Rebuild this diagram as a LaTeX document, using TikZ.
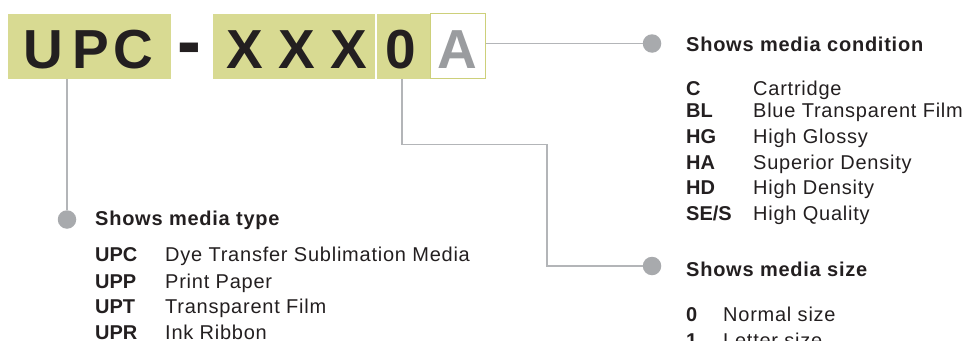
\documentclass[tikz,border=0pt]{standalone}
\usepackage{fontspec}
\setmainfont{Liberation Sans}
\newfontfamily\spacedfont[LetterSpace=3.8]{Liberation Sans}
\definecolor{boxgreen}{HTML}{D8DA92}
\definecolor{boxedge}{HTML}{CDD07A}
\definecolor{linegray}{HTML}{B3B5B8}
\definecolor{dotgray}{HTML}{A8AAAD}
\definecolor{ink}{HTML}{231F20}
\definecolor{agray}{HTML}{9A9C9F}
\tikzset{
  codebox/.style={fill=boxgreen, draw=none, inner sep=0pt, minimum height=65pt},
  abox/.style={fill=white, draw=boxedge, line width=1pt, inner sep=0pt, minimum height=64.5pt, minimum width=55pt},
  bigletter/.style={inner sep=0pt, anchor=base, text=ink, font=\fontsize{55}{60}\selectfont\bfseries},
  bigA/.style={bigletter, text=agray},
  conn/.style={draw=linegray, line width=1.3pt},
  bullet/.style={circle, fill=dotgray, inner sep=0pt, minimum size=18.5pt},
  title/.style={inner sep=0pt, anchor=base west, text=ink, font=\spacedfont\fontsize{20}{24}\selectfont\bfseries},
  code/.style={inner sep=0pt, anchor=base west, text=ink, font=\fontsize{20}{24}\selectfont\bfseries},
  desc/.style={inner sep=0pt, anchor=base west, text=ink, font=\spacedfont\fontsize{20}{24}\selectfont},
}
\begin{document}
\begin{tikzpicture}[x=1pt,y=-1pt]
\useasboundingbox (0,0) rectangle (966,340);
% boxes
\node[codebox, minimum width=163pt] (bupc) at (89.5,46) {};
\node[codebox, minimum width=162pt] (bxxx) at (294,46) {};
\node[codebox, minimum width=53.5pt] (bzero) at (403.5,46) {};
\node[abox] (ba) at (458.3,46.2) {};
% big letters
\node[bigletter] (lu) at (43,68.5) {U};
\node[bigletter] (lp) at (91,68.5) {P};
\node[bigletter] (lc) at (133,68.5) {C};
\node[bigletter] (ldash) at (189,68.5) {\scalebox{1.3}[1.45]{-}};
\node[bigletter] (lx1) at (245,68.5) {X};
\node[bigletter] (lx2) at (297,68.5) {X};
\node[bigletter] (lx3) at (348.5,68.5) {X};
\node[bigletter] (l0) at (401,68.5) {0};
\node[bigA] (la) at (457.5,68.5) {A};
% bullets
\node[bullet] (dcond) at (652,43.5) {};
\node[bullet] (dsize) at (652,266) {};
\node[bullet] (dtype) at (67,219.5) {};
% connectors
\coordinate (tA) at (67,79);
\coordinate (t0) at (402,79);
\coordinate (k1) at (402,144.5);
\coordinate (k2) at (547,144.5);
\coordinate (k3) at (547,266);
\draw[conn] (tA) -- (dtype);
\draw[conn] (ba.east |- dcond) -- (dcond);
\draw[conn] (t0) -- (k1) -- (k2) -- (k3) -- (dsize);
% condition
\node[title] (tcond) at (686,51.5) {Shows media condition};
\node[code] (c1) at (686,95.5) {C};
\node[desc] (d1) at (753,95.5) {Cartridge};
\node[code] (c2) at (686,117.5) {BL};
\node[desc] (d2) at (753,117.5) {Blue Transparent Film};
\node[code] (c3) at (686,143) {HG};
\node[desc] (d3) at (753,143) {High Glossy};
\node[code] (c4) at (686,169) {HA};
\node[desc] (d4) at (753,169) {Superior Density};
\node[code] (c5) at (686,194.5) {HD};
\node[desc] (d5) at (753,194.5) {High Density};
\node[code] (c6) at (686,220.5) {SE/S};
\node[desc] (d6) at (753,220.5) {High Quality};
% type
\node[title] (ttype) at (95,225.5) {Shows media type};
\node[code] (u1) at (95,261.5) {UPC};
\node[desc] (e1) at (165,261.5) {Dye Transfer Sublimation Media};
\node[code] (u2) at (95,288) {UPP};
\node[desc] (e2) at (165,288) {Print Paper};
\node[code] (u3) at (95,313.5) {UPT};
\node[desc] (e3) at (165,313.5) {Transparent Film};
\node[code] (u4) at (95,339.5) {UPR};
\node[desc] (e4) at (165,339.5) {Ink Ribbon};
% size
\node[title] (tsize) at (686,276) {Shows media size};
\node[code] (s1) at (686,321) {0};
\node[desc] (f1) at (723,321) {Normal size};
\node[code] (s2) at (686,347) {1};
\node[desc] (f2) at (723,347) {Letter size};
\end{tikzpicture}
\end{document}
